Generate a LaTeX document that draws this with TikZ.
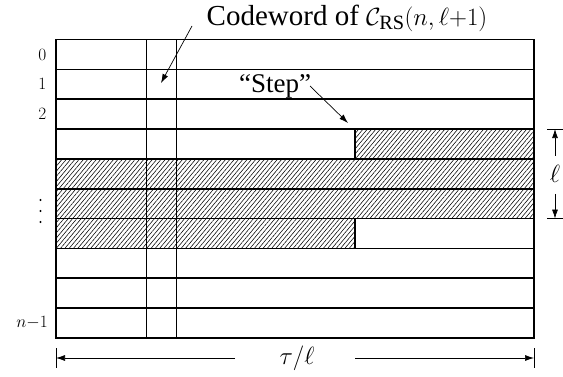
\documentclass[tikz,border=0pt]{standalone}
\usepackage{fontspec}
\setmainfont{Liberation Serif}
\usetikzlibrary{patterns.meta,arrows.meta}
\tikzset{
  big/.style={font=\fontsize{27}{30}\selectfont, inner sep=0pt},
  small/.style={font=\fontsize{19}{21}\selectfont, inner sep=0pt},
  rowline/.style={line width=1.6pt},
  thinline/.style={line width=0.8pt},
  pointer/.style={line width=0.7pt, -{Latex[length=9pt,width=6pt]}},
  dimline/.style={line width=0.7pt, -{Latex[length=9pt,width=6pt]}},
  tick/.style={line width=0.7pt},
  hatch/.style={pattern={Lines[angle=50,distance=3.3pt,line width=0.55pt]}}
}
\begin{document}
\begin{tikzpicture}[x=1pt,y=-1pt]
\useasboundingbox (0,0) rectangle (563,377);
\def\L{56}\def\R{534}\def\S{355}
\def\yA{129.05}\def\yB{158.9}\def\yC{218.6}\def\yD{248.45}
% hatched region
\fill[hatch] (\S,\yA) -- (\R,\yA) -- (\R,\yC) -- (\S,\yC) -- (\S,\yD) -- (\L,\yD) -- (\L,\yB) -- (\S,\yB) -- cycle;
% thin verticals
\draw[thinline] (146,39.5) -- (146,338);
\draw[thinline] (176,39.5) -- (176,338);
% rows
\foreach \i in {1,...,9} {
  \draw[rowline] (\L,{39.5+29.85*\i}) -- (\R,{39.5+29.85*\i});
}
\draw[rowline] (\L,39.5) rectangle (\R,338);
% step verticals
\draw[rowline] (\S,\yA) -- (\S,\yB);
\draw[rowline] (\S,\yC) -- (\S,\yD);
% row labels
\node[small, anchor=east] (r0) at (46.5,54.5) {$0$};
\node[small, anchor=east] (r1) at (46.5,84.3) {$1$};
\node[small, anchor=east] (r2) at (46.5,114.2) {$2$};
\foreach \yy in {200,211,222} \fill (40.5,\yy) circle (1.2pt);
\node[small, anchor=east] (rn) at (48,323.1) {$n{-}1$};
% title
\node[big, font=\fontsize{29}{32}\selectfont] (title) at (347,18) {Codeword of $\mathcal{C}_{\mathrm{RS}}(n,\ell{+}1)$};
\coordinate (cwtip) at (161,83);
\draw[pointer] (192,26) -- (cwtip);
% step
\node[big] (step) at (275,86) {``Step''};
\coordinate (steptip) at (348,123);
\draw[pointer] (310,86) -- (steptip);
% ell dimension
\node[big] (ell) at (555,174) {$\ell$};
\coordinate (et) at (555,\yA);
\coordinate (eb) at (555,\yC);
\draw[tick] (547,\yA) -- (563,\yA);
\draw[tick] (547,\yC) -- (563,\yC);
\draw[dimline] (555,156) -- (et);
\draw[dimline] (555,194) -- (eb);
% tau dimension
\node[big] (tau) at (297,358) {$\tau/\ell$};
\coordinate (tl) at (\L,358);
\coordinate (tr) at (\R,358);
\draw[tick] (\L,348) -- (\L,368);
\draw[tick] (\R,348) -- (\R,368);
\draw[dimline] (235,358) -- (tl);
\draw[dimline] (355,358) -- (tr);
\end{tikzpicture}
\end{document}
